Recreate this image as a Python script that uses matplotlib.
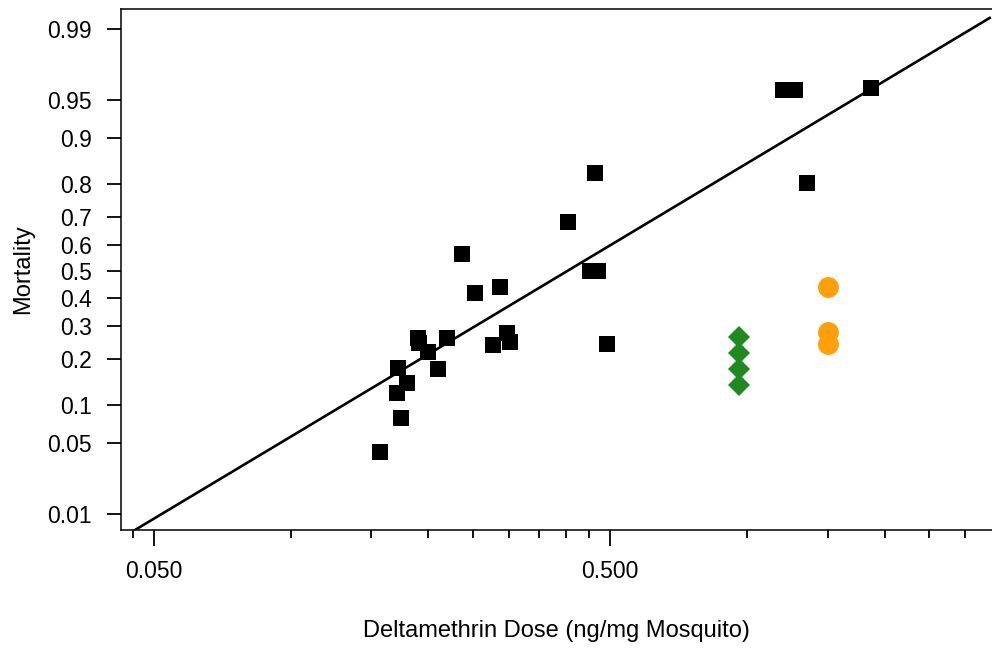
import math
import numpy as np
import matplotlib
matplotlib.use("Agg")
import matplotlib.pyplot as plt
from matplotlib.ticker import FixedLocator, FixedFormatter, NullFormatter

plt.rcParams['font.family'] = ['Liberation Sans', 'DejaVu Sans']

# black squares (dose, mortality)
sq_dose = [0.157, 0.174, 0.171, 0.172, 0.180, 0.190, 0.191, 0.200, 0.210, 0.220,
           0.237, 0.253, 0.287, 0.277, 0.297, 0.302, 0.405, 0.464, 0.452, 0.471,
           0.493, 1.197, 1.272, 1.866, 1.352]
sq_mort = [0.042, 0.080, 0.122, 0.177, 0.142, 0.262, 0.246, 0.220, 0.175, 0.262,
           0.567, 0.418, 0.441, 0.240, 0.278, 0.249, 0.683, 0.828, 0.502, 0.502,
           0.243, 0.959, 0.959, 0.961, 0.802]

# green diamonds
dm_dose = [0.958, 0.958, 0.958, 0.958]
dm_mort = [0.265, 0.217, 0.175, 0.138]

# orange circles
ci_dose = [1.50, 1.50, 1.50]
ci_mort = [0.441, 0.281, 0.243]

# fitted probit line, end points
fit_dose = [0.0455, 3.40]
fit_mort = [0.00657, 0.9925]

y_ticks = [0.01, 0.05, 0.1, 0.2, 0.3, 0.4, 0.5, 0.6, 0.7, 0.8, 0.9, 0.95, 0.99]
y_labels = ['0.01', '0.05', '0.1', '0.2', '0.3', '0.4', '0.5', '0.6', '0.7', '0.8', '0.9', '0.95', '0.99']
x_ticks = [0.05, 0.5]
x_labels = ['0.050', '0.500']
x_minor = [0.045] + [k * 0.05 for k in range(2, 10)] + [k * 0.5 for k in range(2, 7)]


# probit scale helpers (no scipy available)
_a = [-3.969683028665376e+01, 2.209460984245205e+02, -2.759285104469687e+02,
      1.383577518672690e+02, -3.066479806614716e+01, 2.506628277459239e+00]
_b = [-5.447609879822406e+01, 1.615858368580409e+02, -1.556989798598866e+02,
      6.680131188771972e+01, -1.328068155288572e+01]
_c = [-7.784894002430293e-03, -3.223964580411365e-01, -2.400758277161838e+00,
      -2.549732539343734e+00, 4.374664141464968e+00, 2.938163982698783e+00]
_d = [7.784695709041462e-03, 3.224671290700398e-01, 2.445134137142996e+00,
      3.754408661907416e+00]


def ppf(p):
    p = np.clip(np.asarray(p, dtype=float), 1e-12, 1 - 1e-12)
    plow = 0.02425
    q = p - 0.5
    r = q * q
    mid = ((((((_a[0] * r + _a[1]) * r + _a[2]) * r + _a[3]) * r + _a[4]) * r + _a[5]) * q /
           (((((_b[0] * r + _b[1]) * r + _b[2]) * r + _b[3]) * r + _b[4]) * r + 1))
    ql = np.sqrt(-2 * np.log(p))
    low = ((((((_c[0] * ql + _c[1]) * ql + _c[2]) * ql + _c[3]) * ql + _c[4]) * ql + _c[5]) /
           ((((_d[0] * ql + _d[1]) * ql + _d[2]) * ql + _d[3]) * ql + 1))
    qh = np.sqrt(-2 * np.log(1 - p))
    high = -((((((_c[0] * qh + _c[1]) * qh + _c[2]) * qh + _c[3]) * qh + _c[4]) * qh + _c[5]) /
             ((((_d[0] * qh + _d[1]) * qh + _d[2]) * qh + _d[3]) * qh + 1))
    return np.where(p < plow, low, np.where(p > 1 - plow, high, mid))


_erf = np.vectorize(math.erf)


def cdf(z):
    z = np.asarray(z, dtype=float)
    return 0.5 * (1 + _erf(z / math.sqrt(2)))


fig = plt.figure(figsize=(9.92, 6.5), dpi=100)
ax = fig.add_axes([121 / 992, 120 / 650, 871 / 992, 521 / 650])

ax.set_xscale('log')
ax.set_yscale('function', functions=(ppf, cdf))

ax.plot(fit_dose, fit_mort, color='black', lw=1.9, zorder=2)
ax.plot(sq_dose, sq_mort, ls='none', marker='s', ms=11.5, color='black', mew=0, zorder=3)
ax.plot(dm_dose, dm_mort, ls='none', marker='D', ms=11, color='#1f8a1f', mew=0, zorder=3)
ax.plot(ci_dose, ci_mort, ls='none', marker='o', ms=15, color='#ffa00a', mew=0, zorder=3)

ax.set_xlim(0.0424, 3.44)
ax.set_ylim(0.00657, 0.9941)

ax.yaxis.set_major_locator(FixedLocator(y_ticks))
ax.yaxis.set_major_formatter(FixedFormatter(y_labels))
ax.yaxis.set_minor_formatter(NullFormatter())
ax.yaxis.set_minor_locator(FixedLocator([]))
ax.xaxis.set_major_locator(FixedLocator(x_ticks))
ax.xaxis.set_major_formatter(FixedFormatter(x_labels))
ax.xaxis.set_minor_locator(FixedLocator(x_minor))
ax.xaxis.set_minor_formatter(NullFormatter())

ax.tick_params(axis='y', which='major', length=10, width=1.3, pad=11, labelsize=16.5)
ax.tick_params(axis='x', which='major', length=11.5, width=1.3, pad=10, labelsize=16.5)
ax.tick_params(axis='x', which='minor', length=5.8, width=1.3)

for side in ['left', 'top', 'bottom']:
    ax.spines[side].set_linewidth(1.1)
ax.spines['right'].set_visible(False)

ax.set_xlabel('Deltamethrin Dose (ng/mg Mosquito)', fontsize=17)
ax.set_ylabel('Mortality', fontsize=17)
ax.xaxis.set_label_coords(0.5, -0.172)
ax.yaxis.set_label_coords(-0.100, 0.5)

fig.savefig('out.png', dpi=100, facecolor='white')
